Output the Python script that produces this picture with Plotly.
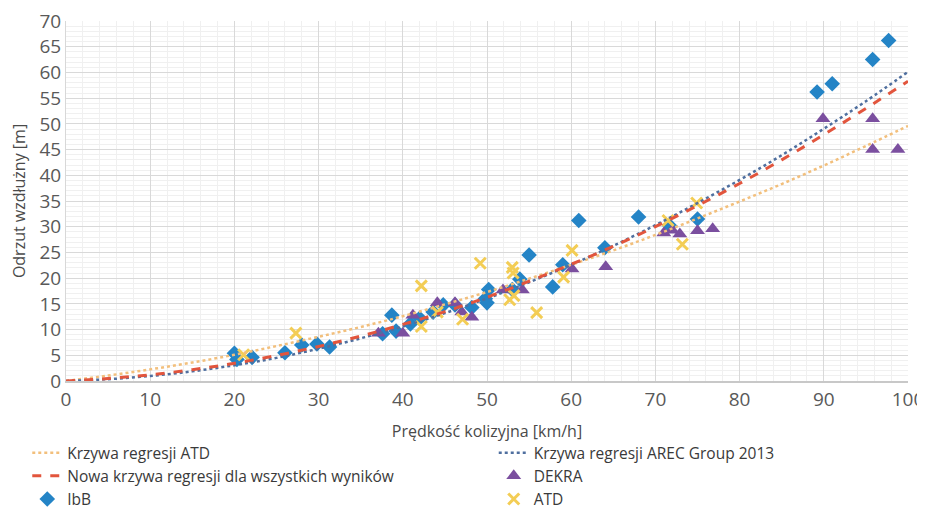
import plotly.graph_objects as go

# ---- data ----
curve_x = [0, 5, 10, 15, 20, 25, 30, 35, 40, 45, 50, 55, 60, 65, 70, 75, 80, 85, 90, 95, 100]
curve_atd = [0, 1.06, 2.26, 3.6, 5.1, 6.8, 8.6, 10.5, 12.6, 14.9, 17.3, 19.9, 22.6, 25.4, 28.4,
             31.6, 34.9, 38.3, 41.9, 45.7, 49.6]
curve_new = [0, 0.48, 1.21, 2.2, 3.45, 4.96, 6.72, 8.73, 11.0, 13.5, 16.3, 19.4, 22.7, 26.2, 30.0,
             34.1, 38.4, 43.0, 47.9, 53.0, 58.3]
curve_arec = [0, 0.35, 0.97, 1.88, 3.06, 4.5, 6.27, 8.3, 10.6, 13.2, 16.05, 19.2, 22.6, 26.3, 30.3,
              34.6, 39.1, 43.9, 49.05, 54.4, 60.1]

ibb_x = [20.0, 20.3, 22.1, 26.0, 28.0, 29.8, 31.3, 37.6, 38.7, 39.2, 40.9, 42.0, 43.6, 44.8, 46.2,
         48.2, 49.8, 50.0, 50.2, 53.0, 53.9, 55.0, 57.8, 59.0, 60.9, 64.0, 68.0, 71.7, 75.0,
         89.2, 91.0, 95.8, 97.7]
ibb_y = [5.4, 4.2, 4.6, 5.5, 7.0, 7.2, 6.6, 9.2, 12.8, 9.7, 11.1, 12.2, 13.4, 14.8, 14.8,
         14.3, 16.0, 15.2, 17.8, 17.8, 19.8, 24.5, 18.3, 22.6, 31.2, 25.9, 31.9, 30.2, 31.5,
         56.2, 57.8, 62.5, 66.2]

dekra_x = [37.1, 40.0, 41.2, 44.1, 46.2, 47.0, 48.2, 51.9, 54.2, 60.1, 64.1, 71.0, 72.0, 72.9,
           75.0, 76.8, 89.9, 95.8, 95.8, 98.8]
dekra_y = [9.3, 9.3, 12.8, 15.2, 15.2, 13.4, 12.4, 17.7, 17.7, 21.8, 22.2, 28.8, 29.3, 28.6,
           29.2, 29.6, 51.0, 51.0, 45.0, 45.0]

atd_x = [21.1, 27.3, 42.2, 42.2, 44.1, 47.1, 49.2, 52.7, 53.2, 53.0, 53.1, 55.9, 59.1, 60.1,
         71.5, 73.2, 74.9]
atd_y = [5.1, 9.3, 18.5, 10.6, 13.4, 12.0, 22.9, 15.8, 16.6, 22.1, 21.0, 13.3, 20.2, 25.4,
         31.2, 26.6, 34.6]

x_ticks = [0, 10, 20, 30, 40, 50, 60, 70, 80, 90, 100]
y_ticks = [0, 5, 10, 15, 20, 25, 30, 35, 40, 45, 50, 55, 60, 65, 70]

FONT = "Open Sans"
C_IBB = "#2484c6"
C_DEKRA = "#7b4f9f"
C_ATD = "#f3cd55"
C_ATD_LINE = "#f2bf7c"
C_AREC = "#4f6f9f"
C_NEW = "#e2553d"

fig = go.Figure()

# points
fig.add_trace(go.Scatter(x=ibb_x, y=ibb_y, mode="markers", name="IbB", legend="legend",
                         legendrank=3,
                         marker=dict(symbol="diamond", size=12, color=C_IBB,
                                     line=dict(width=0))))
fig.add_trace(go.Scatter(x=dekra_x, y=dekra_y, mode="markers", name="DEKRA", legend="legend2",
                         legendrank=2,
                         marker=dict(symbol="triangle-up", size=13, color=C_DEKRA,
                                     line=dict(width=0))))
fig.add_trace(go.Scatter(x=atd_x, y=atd_y, mode="markers", name="ATD", legend="legend2",
                         legendrank=3,
                         marker=dict(symbol="x-thin", size=11, color=C_ATD,
                                     line=dict(width=3, color=C_ATD))))

# curves
fig.add_trace(go.Scatter(x=curve_x, y=curve_atd, mode="lines", name="Krzywa regresji ATD",
                         legend="legend", legendrank=1, line_shape="spline",
                         line=dict(color=C_ATD_LINE, width=2.5, dash="dot")))
fig.add_trace(go.Scatter(x=curve_x, y=curve_arec, mode="lines",
                         name="Krzywa regresji AREC Group 2013",
                         legend="legend2", legendrank=1, line_shape="spline",
                         line=dict(color=C_AREC, width=2.5, dash="dot")))
fig.add_trace(go.Scatter(x=curve_x, y=curve_new, mode="lines",
                         name="Nowa krzywa regresji dla wszystkich wyników",
                         legend="legend", legendrank=2, line_shape="spline",
                         line=dict(color=C_NEW, width=3, dash="dash")))

legend_common = dict(orientation="v", yanchor="top", xanchor="left",
                     bgcolor="rgba(0,0,0,0)", borderwidth=0, tracegroupgap=0,
                     font=dict(family=FONT, size=15.5, color="#3a3a3a"),
                     traceorder="normal")

# the page body adds an 8px offset, so the figure is 8px smaller on each axis
fig.update_layout(
    width=917, height=503,
    margin=dict(l=58, r=17, t=13, b=130, autoexpand=False),
    paper_bgcolor="white", plot_bgcolor="white",
    font=dict(family=FONT, color="#555555"),
    showlegend=True,
    legend=dict(x=-0.046, y=-0.153, **legend_common),
    legend2=dict(x=0.508, y=-0.153, **legend_common),
    xaxis=dict(range=[0, 100], tickvals=x_ticks, ticktext=[str(v) for v in x_ticks],
               automargin=False, ticklabeloverflow="allow",
               showgrid=True, gridcolor="#d9d9d9", gridwidth=1,
               minor=dict(dtick=2, showgrid=True, gridcolor="#f0f0f0", gridwidth=1),
               zeroline=False, showline=True, linecolor="#c8c8c8", linewidth=1.5,
               ticks="", tickfont=dict(family=FONT, size=19, color="#595959"),
               title=dict(text="Prędkość kolizyjna [km/h]",
                          font=dict(family=FONT, size=16, color="#4a4a4a"))),
    yaxis=dict(range=[0, 70], tickvals=y_ticks, ticktext=[str(v) for v in y_ticks],
               automargin=False, ticklabeloverflow="allow",
               showgrid=True, gridcolor="#d9d9d9", gridwidth=1,
               minor=dict(dtick=1, showgrid=True, gridcolor="#f0f0f0", gridwidth=1),
               zeroline=False, showline=True, linecolor="#d8d8d8", linewidth=1,
               ticks="", tickfont=dict(family=FONT, size=19, color="#595959"),
               title=dict(text="Odrzut wzdłużny [m]",
                          font=dict(family=FONT, size=16, color="#4a4a4a"))),
)

fig.write_html("out.html")
